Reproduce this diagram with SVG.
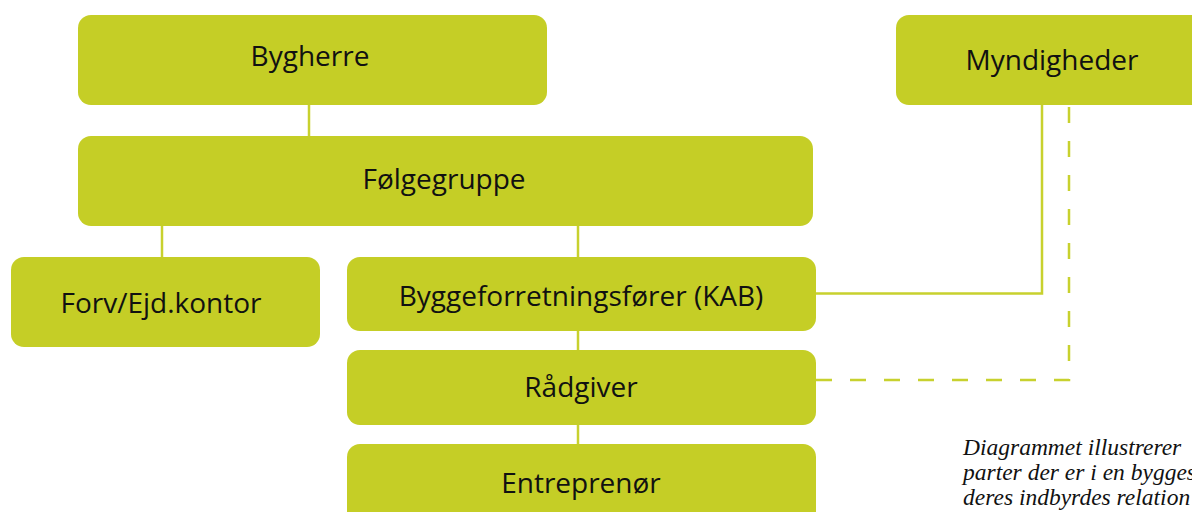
<svg xmlns="http://www.w3.org/2000/svg" width="1192" height="512" viewBox="0 0 1192 512">
<style>
.box{fill:#C5CE26;}
.lbl{font-family:"Open Sans","Liberation Sans",sans-serif;font-size:28px;fill:#111;text-anchor:middle;}
.con{stroke:#C8D12E;stroke-width:2.5;fill:none;}
.dash{stroke-dasharray:16 18;}
.cap{font-family:"Liberation Serif","DejaVu Serif",serif;font-style:italic;font-size:23.5px;fill:#111;}
</style>
<rect width="1192" height="512" fill="#fff"/>
<g id="connectors">
<line class="con" x1="309" y1="105" x2="309" y2="136"/>
<line class="con" x1="162" y1="226" x2="162" y2="257"/>
<line class="con" x1="578" y1="226" x2="578" y2="257"/>
<line class="con" x1="578" y1="331" x2="578" y2="350"/>
<line class="con" x1="578" y1="425" x2="578" y2="444"/>
<polyline class="con" points="816,293.5 1042,293.5 1042,105"/>
<polyline class="con dash" points="816,380 1069,380 1069,105"/>
</g>
<g id="bygherre"><rect class="box" x="78" y="15" width="469" height="90" rx="13"/><text class="lbl" x="310" y="66">Bygherre</text></g>
<g id="myndigheder"><rect class="box" x="896" y="15" width="310" height="90" rx="13"/><text class="lbl" x="1052" y="70">Myndigheder</text></g>
<g id="folgegruppe"><rect class="box" x="78" y="136" width="735" height="90" rx="13"/><text class="lbl" x="444" y="189">Følgegruppe</text></g>
<g id="forv"><rect class="box" x="11" y="257" width="309" height="90" rx="13"/><text class="lbl" x="161" y="313">Forv/Ejd.kontor</text></g>
<g id="byggeforretningsforer"><rect class="box" x="347" y="257" width="469" height="74" rx="13"/><text class="lbl" x="581" y="306">Byggeforretningsfører (KAB)</text></g>
<g id="radgiver"><rect class="box" x="347" y="350" width="469" height="75" rx="13"/><text class="lbl" x="581" y="397">Rådgiver</text></g>
<g id="entreprenor"><rect class="box" x="347" y="444" width="469" height="90" rx="13"/><text class="lbl" x="581" y="493">Entreprenør</text></g>
<g id="caption">
<text class="cap" x="963" y="455">Diagrammet illustrerer</text>
<text class="cap" x="963" y="480">parter der er i en bygges</text>
<text class="cap" x="963" y="505">deres indbyrdes relation</text>
</g>
</svg>
